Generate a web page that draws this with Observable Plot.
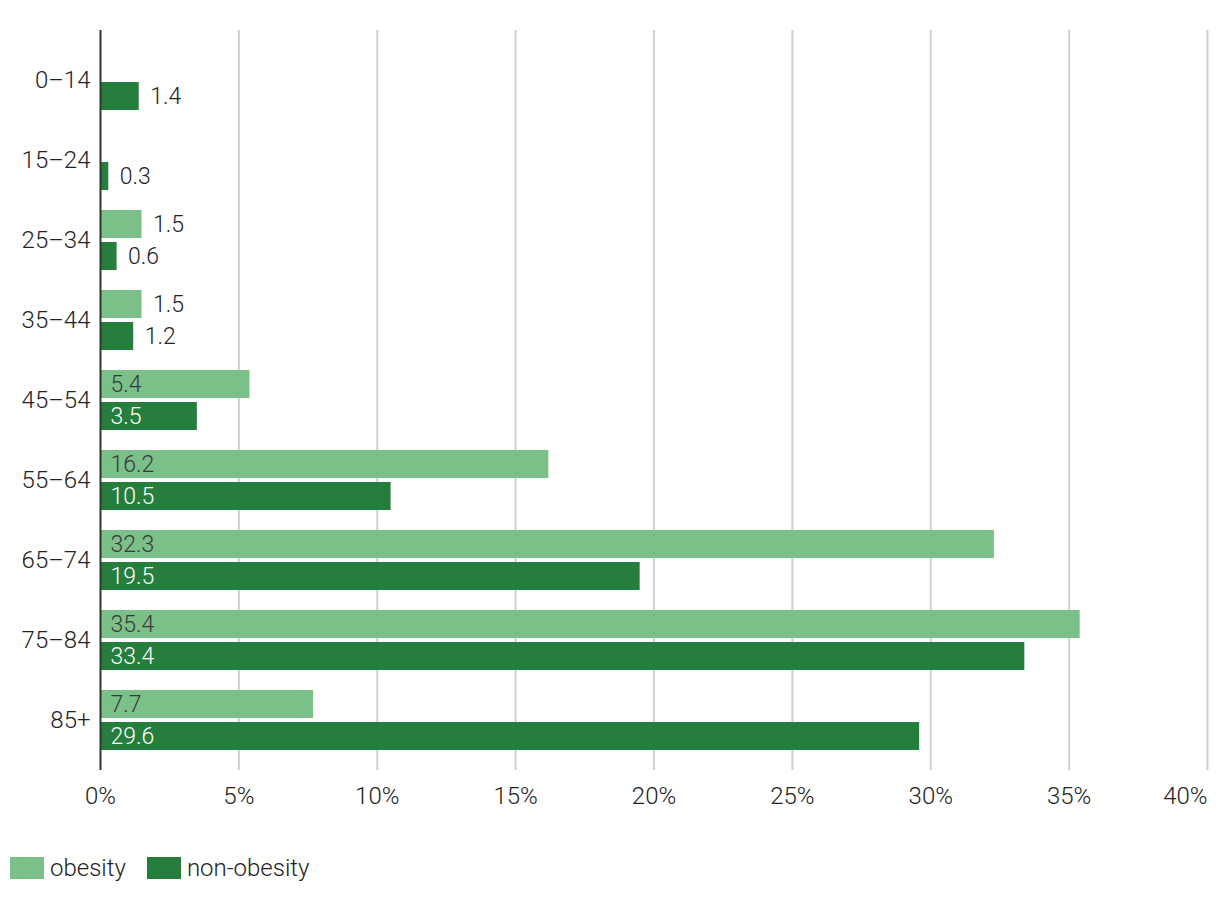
<!DOCTYPE html>
<html>
<head>
<meta charset="utf-8">
<script src="https://cdn.jsdelivr.net/npm/d3@7"></script>
<script src="https://cdn.jsdelivr.net/npm/@observablehq/plot@0.6"></script>
<style>
  body { margin: 0; background: #fff; font-family: Roboto, sans-serif; font-weight: 300; position: relative; width: 1220px; height: 900px; }
  #legend { position: absolute; left: 10px; top: 857px; display: flex; align-items: center; font-size: 24px; line-height: 22px; color: #222; }
  #legend .sw { width: 34px; height: 22px; display: inline-block; margin-right: 6px; }
  #legend .item { display: flex; align-items: center; }
</style>
</head>
<body>
<div id="chart"></div>
<div id="legend"></div>
<script>
const ages = ["0–14", "15–24", "25–34", "35–44", "45–54", "55–64", "65–74", "75–84", "85+"];
const obesity = [null, null, 1.5, 1.5, 5.4, 16.2, 32.3, 35.4, 7.7];
const nonObesity = [1.4, 0.3, 0.6, 1.2, 3.5, 10.5, 19.5, 33.4, 29.6];
const series = ["obesity", "non-obesity"];
const colors = ["#7bbf89", "#267e3d"];
const xTicks = [0, 5, 10, 15, 20, 25, 30, 35, 40];

const obsData = ages.map((a, i) => ({age: a, value: obesity[i]})).filter(d => d.value != null);
const nonData = ages.map((a, i) => ({age: a, value: nonObesity[i]})).filter(d => d.value != null);
const inside = d => d.value >= 3;
const FS = 24;
const LS = 23;

const chart = Plot.plot({
  width: 1220,
  height: 840,
  marginLeft: 100,
  marginRight: 13,
  marginTop: 30,
  marginBottom: 70,
  style: {fontFamily: "Roboto, sans-serif", fontWeight: 300, fontSize: FS + "px", color: "#222", background: "#fff"},
  x: {domain: [0, 40], label: null},
  y: {domain: ages, padding: 0.25, label: null},
  marks: [
    Plot.ruleX(xTicks.filter(t => t > 0), {stroke: "#d0d0d0", strokeWidth: 2}),
    Plot.barX(obsData, {x: "value", y: "age", fill: colors[0], insetTop: 0, insetBottom: 32}),
    Plot.barX(nonData, {x: "value", y: "age", fill: colors[1], insetTop: 32, insetBottom: 0}),
    Plot.ruleX([0], {stroke: "#333", strokeWidth: 2}),
    Plot.text(obsData.filter(inside), {x: 0, y: "age", dy: -16, dx: 10, text: d => d.value.toFixed(1), textAnchor: "start", fill: "#3a3a3a", fontSize: LS}),
    Plot.text(obsData.filter(d => !inside(d)), {x: "value", y: "age", dy: -16, dx: 11, text: d => d.value.toFixed(1), textAnchor: "start", fill: "#222", fontSize: LS}),
    Plot.text(nonData.filter(inside), {x: 0, y: "age", dy: 16, dx: 10, text: d => d.value.toFixed(1), textAnchor: "start", fill: "#fff", fontSize: LS}),
    Plot.text(nonData.filter(d => !inside(d)), {x: "value", y: "age", dy: 16, dx: 11, text: d => d.value.toFixed(1), textAnchor: "start", fill: "#222", fontSize: LS}),
    Plot.axisY({tickSize: 0, tickPadding: 10, fontSize: FS, fill: "#222", label: null}),
    Plot.axisX({ticks: xTicks.slice(0, -1), tickSize: 0, tickPadding: 16, tickFormat: d => d + "%", fontSize: FS, fill: "#222", label: null}),
    Plot.axisX({ticks: [40], tickSize: 0, tickPadding: 16, tickFormat: d => d + "%", fontSize: FS, fill: "#222", textAnchor: "end", label: null})
  ]
});
document.getElementById("chart").appendChild(chart);

const legend = document.getElementById("legend");
series.forEach((s, i) => {
  const item = document.createElement("span");
  item.className = "item";
  item.style.marginRight = i === 0 ? "21px" : "0";
  item.innerHTML = `<span class="sw" style="background:${colors[i]}"></span><span>${s}</span>`;
  legend.appendChild(item);
});
</script>
</body>
</html>
